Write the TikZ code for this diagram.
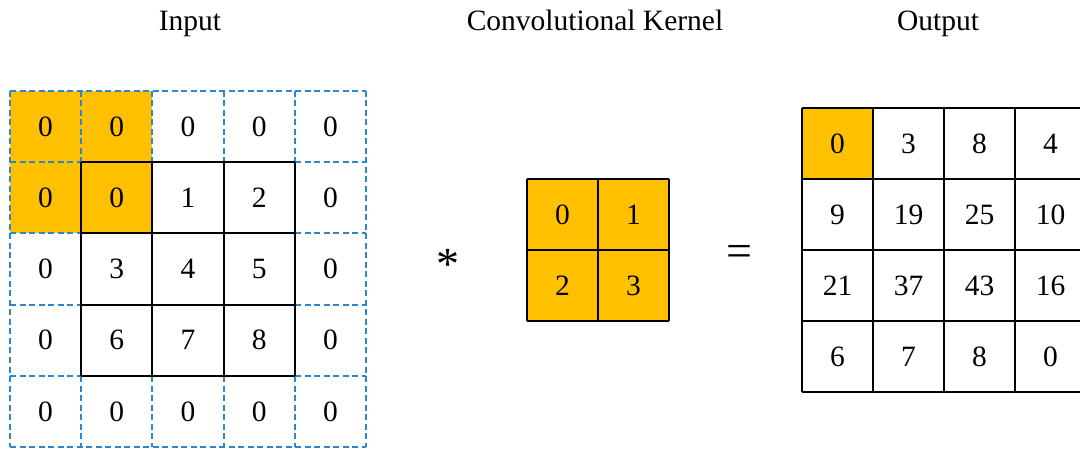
\documentclass[tikz,border=0pt]{standalone}
\usepackage{fontspec}
\setmainfont{Liberation Serif}
\definecolor{kgold}{RGB}{255,192,0}
\definecolor{dblue}{RGB}{46,134,204}
\begin{document}
\begin{tikzpicture}[x=1pt,y=-1pt,
  dashline/.style={draw=dblue,line width=1.8pt,dash pattern=on 6pt off 3.5pt},
  solidline/.style={draw=black,line width=1.7pt},
  cell/.style={inner sep=0pt,minimum size=70pt,font=\fontsize{29.5}{30}\selectfont},
  title/.style={inner sep=0pt,font=\fontsize{29.5}{30}\selectfont},
  symb/.style={inner sep=0pt,font=\fontsize{42}{42}\selectfont}]
\useasboundingbox (0,0) rectangle (1080,449);
\fill[white] (0,0) rectangle (1080,449);
% titles
\node[title,anchor=base] (tin) at (190,31) {Input};
\node[title,anchor=base] (tker) at (595,31) {Convolutional Kernel};
\node[title,anchor=base] (tout) at (938,31) {Output};
% ---------- input ----------
\def\gx{{10,81,152,224,295,366}}
\def\gy{{91,162,233,305,376,447}}
\fill[kgold] (10,91) rectangle (152,233);
\foreach \i in {0,...,5}{
  \pgfmathsetmacro{\xx}{\gx[\i]}
  \pgfmathsetmacro{\yy}{\gy[\i]}
  \draw[dashline] (\xx,91) -- (\xx,447);
  \draw[dashline] (10,\yy) -- (366,\yy);
}
\foreach \i in {1,...,4}{
  \pgfmathsetmacro{\xx}{\gx[\i]}
  \pgfmathsetmacro{\yy}{\gy[\i]}
  \draw[solidline] (\xx,162) -- (\xx,376);
  \draw[solidline] (81,\yy) -- (295,\yy);
}
\foreach \row [count=\r from 0] in {{0,0,0,0,0},{0,0,1,2,0},{0,3,4,5,0},{0,6,7,8,0},{0,0,0,0,0}}{
  \foreach \v [count=\c from 0] in \row {
    \node[cell] (in-\r-\c) at (45.6+\c*71.2,126.6+\r*71.2) {\v};
  }
}
% ---------- kernel ----------
\fill[kgold] (527,179) rectangle (669,321);
\foreach \p in {527,598,669}{
  \draw[solidline] (\p,179) -- (\p,321);
}
\foreach \p in {179,250,321}{
  \draw[solidline] (527,\p) -- (669,\p);
}
\foreach \row [count=\r from 0] in {{0,1},{2,3}}{
  \foreach \v [count=\c from 0] in \row {
    \node[cell] (k-\r-\c) at (562.5+\c*71,214.5+\r*71) {\v};
  }
}
% ---------- output ----------
\fill[kgold] (802,108) rectangle (873,179);
\foreach \i in {0,...,4}{
  \draw[solidline] (802+\i*71,108) -- (802+\i*71,392);
  \draw[solidline] (802,108+\i*71) -- (1086,108+\i*71);
}
\foreach \row [count=\r from 0] in {{0,3,8,4},{9,19,25,10},{21,37,43,16},{6,7,8,0}}{
  \foreach \v [count=\c from 0] in \row {
    \node[cell] (o-\r-\c) at (837.5+\c*71,143.5+\r*71) {\v};
  }
}
% operators
\node[symb,font=\fontsize{46}{46}\selectfont] (star) at (448,264) {*};
\node[symb,font=\fontsize{46}{46}\selectfont] (eq) at (739.5,256) {=};
\end{tikzpicture}
\end{document}
